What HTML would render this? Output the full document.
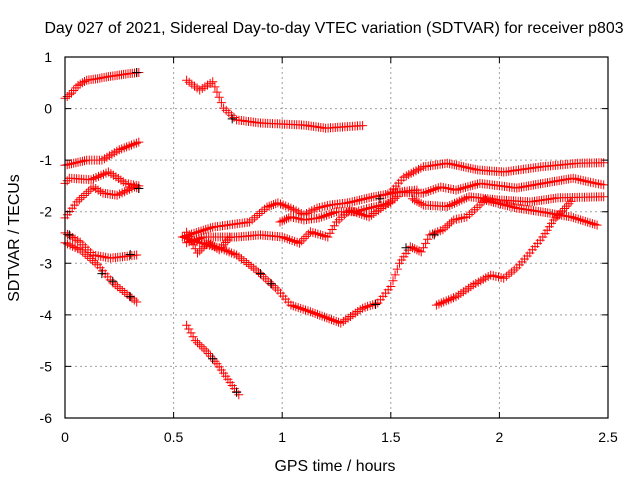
<!DOCTYPE html>
<html><head><meta charset="utf-8"><style>
body{margin:0;background:#fff}
svg{display:block;font-family:"Liberation Sans",sans-serif}
</style></head><body>
<svg id="chart" width="640" height="480" viewBox="0 0 640 480">
<rect width="640" height="480" fill="#fff"/>
<text x="334" y="33" font-size="15.9" text-anchor="middle">Day 027 of 2021, Sidereal Day-to-day VTEC variation (SDTVAR) for receiver p803</text>
<text x="335" y="471" font-size="15.9" text-anchor="middle">GPS time / hours</text>
<text transform="translate(19,238) rotate(-90)" font-size="15.9" text-anchor="middle">SDTVAR / TECUs</text>
<g id="grid"></g><g id="marks"></g><g id="axes"></g>
</svg>
<script>
const xTicks=[0,0.5,1,1.5,2,2.5];
const xTickLabels=["0","0.5","1","1.5","2","2.5"];
const yTicks=[1,0,-1,-2,-3,-4,-5,-6];
const yTickLabels=["1","0","-1","-2","-3","-4","-5","-6"];
const t1=[[0,0.2],[0.03,0.3],[0.06,0.45],[0.1,0.55],[0.15,0.58],[0.2,0.62],[0.25,0.65],[0.3,0.68],[0.34,0.7]];
const t2=[[0,-1.1],[0.05,-1.05],[0.1,-1.0],[0.17,-1.0],[0.25,-0.8],[0.34,-0.65]];
const t3=[[0,-1.45],[0.02,-1.35],[0.12,-1.38],[0.2,-1.23],[0.28,-1.45],[0.34,-1.5]];
const t4=[[0,-2.12],[0.055,-1.81],[0.13,-1.52],[0.175,-1.64],[0.24,-1.68],[0.32,-1.52],[0.34,-1.55]];
const t5=[[0,-2.41],[0.07,-2.59],[0.13,-2.84],[0.21,-2.9],[0.33,-2.84]];
const t6=[[0,-2.6],[0.07,-2.74],[0.15,-3.03],[0.22,-3.38],[0.33,-3.75]];
const t7=[[0.56,0.55],[0.62,0.36],[0.68,0.52],[0.71,0.22],[0.73,0.01],[0.79,-0.22],[0.9,-0.28],[1.0,-0.3],[1.1,-0.32],[1.2,-0.38],[1.3,-0.35],[1.37,-0.33]];
const t8=[[0.56,-4.2],[0.6,-4.5],[0.65,-4.7],[0.7,-4.95],[0.75,-5.25],[0.8,-5.55]];
const t9=[[0.55,-2.5],[0.62,-2.6],[0.71,-2.7],[0.79,-2.84],[0.88,-3.13],[0.98,-3.52],[1.04,-3.81],[1.13,-3.94],[1.27,-4.16],[1.37,-3.87],[1.44,-3.77],[1.5,-3.45],[1.54,-3.0],[1.59,-2.68],[1.64,-2.78],[1.68,-2.45],[1.74,-2.35],[1.79,-2.16],[1.85,-2.1],[1.91,-1.87],[1.93,-1.77]];
const t10=[[1.71,-3.81],[1.8,-3.65],[1.88,-3.42],[1.96,-3.23],[2.02,-3.29],[2.08,-3.09],[2.14,-2.8],[2.2,-2.49],[2.25,-2.16],[2.28,-2.03],[2.33,-1.8]];
const tA=[[1.5,-1.62],[1.56,-1.33],[1.65,-1.13],[1.76,-1.06],[1.9,-1.19],[2.02,-1.23],[2.19,-1.13],[2.36,-1.06],[2.48,-1.05]];
const tB=[[1.5,-1.62],[1.65,-1.64],[1.73,-1.52],[1.8,-1.58],[1.91,-1.45],[2.08,-1.54],[2.2,-1.45],[2.34,-1.35],[2.42,-1.43],[2.48,-1.48]];
const tC=[[1.6,-1.75],[1.65,-1.87],[1.76,-1.9],[1.86,-1.71],[1.99,-1.77],[2.14,-1.81],[2.27,-1.73],[2.48,-1.71]];
const tD=[[1.93,-1.77],[2.08,-1.93],[2.19,-2.0],[2.33,-2.1],[2.45,-2.26]];
const tL1=[[0.54,-2.49],[0.68,-2.3],[0.85,-2.2],[0.93,-1.91],[0.98,-1.83],[1.04,-1.93],[1.1,-2.06],[1.16,-1.93],[1.22,-1.87],[1.3,-1.83],[1.4,-1.73],[1.53,-1.62],[1.62,-1.58]];
const tL2=[[0.56,-2.6],[0.64,-2.49],[0.79,-2.49],[0.9,-2.45],[1.0,-2.49],[1.08,-2.61],[1.13,-2.39],[1.21,-2.49],[1.25,-2.2],[1.31,-1.97],[1.4,-2.1],[1.53,-1.71]];
const tL3=[[0.99,-2.2],[1.04,-2.1],[1.1,-2.16],[1.17,-2.12],[1.25,-2.0],[1.34,-2.0],[1.4,-1.93],[1.5,-1.83]];
const tL4=[[0.56,-2.4],[0.61,-2.8],[0.66,-2.6],[0.71,-2.74],[0.76,-2.5]];
const tracks=[t1,t2,t3,t4,t5,t6,t7,t8,t9,t10,tA,tB,tC,tD,tL1,tL2,tL3,tL4];
const blackPts=[[0.33,0.7],[0.34,-1.55],[0.17,-3.2],[0.22,-3.35],[0.3,-3.65],[0.77,-0.2],[0.68,-4.85],[0.79,-5.5],[0.95,-3.4],[0.9,-3.2],[1.43,-3.8],[1.57,-2.7],[1.7,-2.45],[1.45,-1.75],[0.3,-2.83],[0.02,-2.45]];

const X0=65,X1=608,Y0=57,Y1=418;
const sx=v=>X0+(v-0)/(2.5-0)*(X1-X0);
const sy=v=>Y0+(1-v)/(1-(-6))*(Y1-Y0);
const NS="http://www.w3.org/2000/svg";
function mk(tag,attrs,parent){const e=document.createElementNS(NS,tag);for(const k in attrs)e.setAttribute(k,attrs[k]);parent.appendChild(e);return e;}
const grid=document.getElementById('grid'),marks=document.getElementById('marks'),axes=document.getElementById('axes');
xTicks.forEach((t,i)=>{
  if(i>0&&i<xTicks.length-1){const g=mk('line',{x1:sx(t),x2:sx(t),y1:Y0,y2:Y1,stroke:'#a0a0a0','stroke-dasharray':'2,3'},grid);
  
  }
  const tk=mk('path',{d:`M${sx(t)} ${Y1}v-6M${sx(t)} ${Y0}v6`,stroke:'#000'},axes);
  
  
  const l=mk('text',{x:sx(t),y:Y1+24,'font-size':14,'text-anchor':'middle'},axes);l.textContent=xTickLabels[i];
  
  
});
yTicks.forEach((t,i)=>{
  if(i>0&&i<yTicks.length-1){const g=mk('line',{x1:X0,x2:X1,y1:sy(t),y2:sy(t),stroke:'#a0a0a0','stroke-dasharray':'2,3'},grid);
  
  }
  const tk=mk('path',{d:`M${X0} ${sy(t)}h6M${X1} ${sy(t)}h-6`,stroke:'#000'},axes);
  
  
  const l=mk('text',{x:X0-13,y:sy(t)+5,'font-size':14,'text-anchor':'end'},axes);l.textContent=yTickLabels[i];
  
  
});
const fr=mk('rect',{x:X0,y:Y0,width:X1-X0,height:Y1-Y0,fill:'none',stroke:'#000','stroke-width':1.2},axes);


function plus(x,y){return `M${(x-4.5).toFixed(1)} ${y.toFixed(1)}h9M${x.toFixed(1)} ${(y-4.5).toFixed(1)}v9`;}
tracks.forEach((tr,ti)=>{
  let d='';
  for(let i=0;i<tr.length;i++){
    const [xa,ya]=tr[i];d+=plus(sx(xa),sy(ya));
    if(i<tr.length-1){const [xb,yb]=tr[i+1];const n=Math.max(1,Math.round((xb-xa)/0.011));
      for(let k=1;k<n;k++){const f=k/n;d+=plus(sx(xa+(xb-xa)*f),sy(ya+(yb-ya)*f));}}
  }
  const p=mk('path',{d:d,stroke:'#ff0000','stroke-width':1,fill:'none'},marks);
  
  
});
let bd='';blackPts.forEach(([x,y])=>{bd+=plus(sx(x),sy(y));});
const bp=mk('path',{d:bd,stroke:'#000','stroke-width':1,fill:'none'},marks);


</script>
</body></html>
